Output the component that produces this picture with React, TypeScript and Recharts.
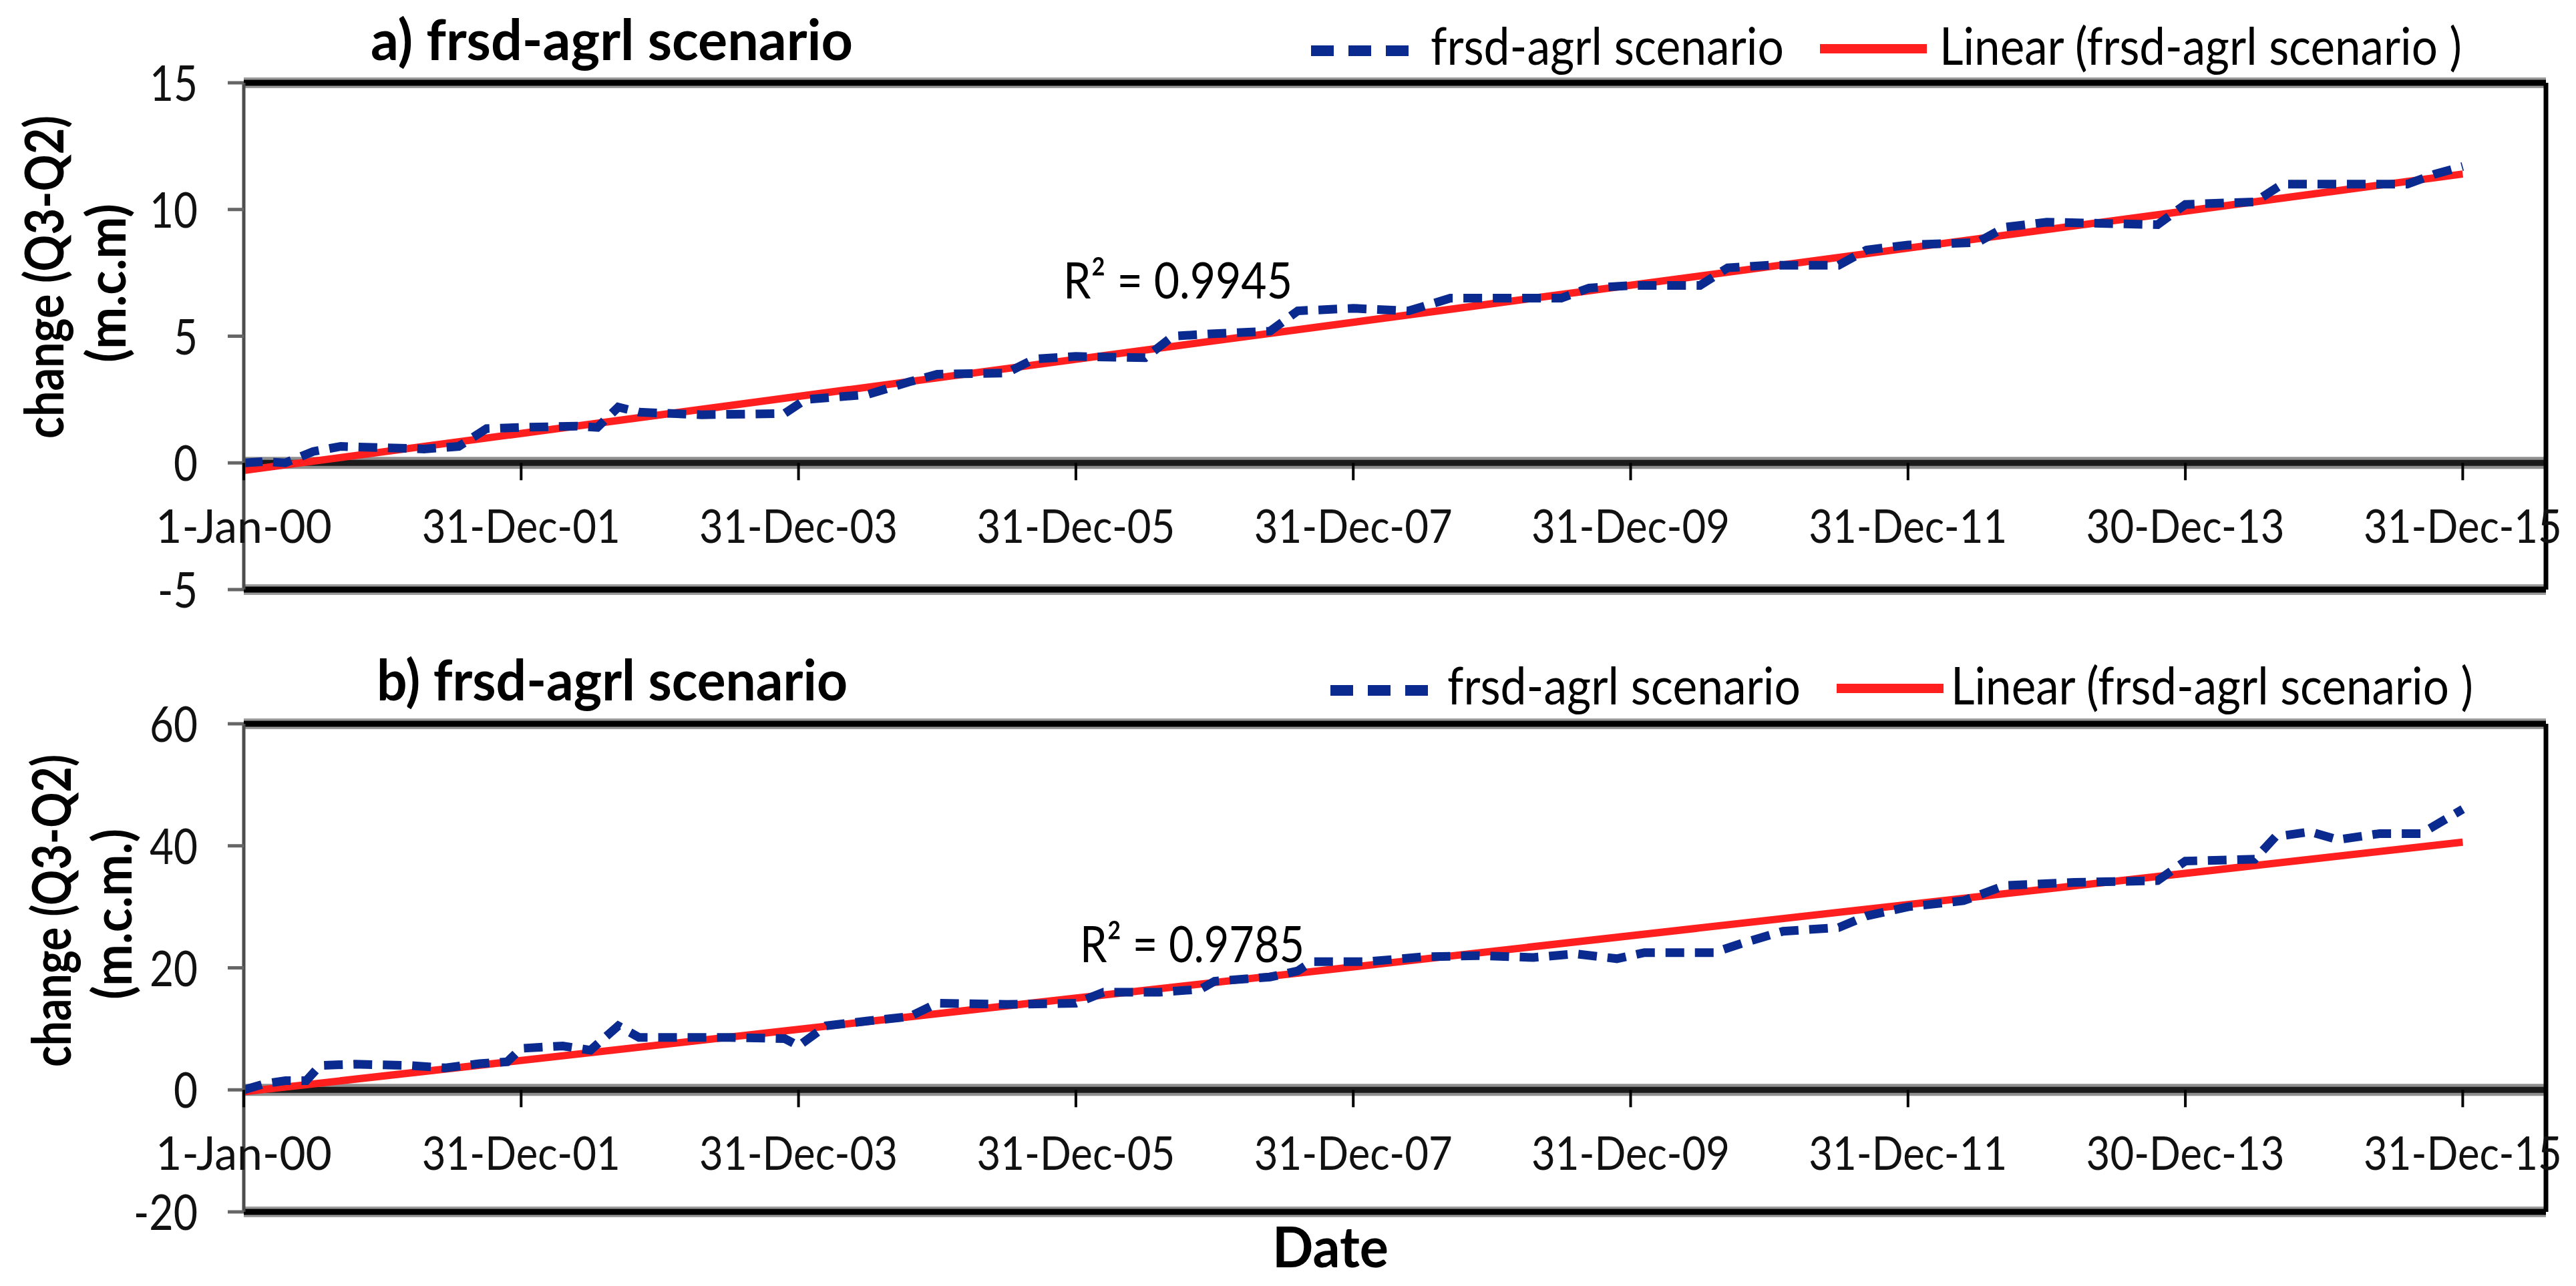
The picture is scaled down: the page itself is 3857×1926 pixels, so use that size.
import React from 'react';
import { LineChart, Line, XAxis, YAxis, ReferenceLine } from 'recharts';

const FONT = 'Lato, "Open Sans", "DejaVu Sans", sans-serif';

// x values are years counted from 1-Jan-2000
const xTicks = [0, 2, 4, 6, 8, 10, 12, 14, 16];
const xTickLabels = ['1-Jan-00', '31-Dec-01', '31-Dec-03', '31-Dec-05', '31-Dec-07', '31-Dec-09', '31-Dec-11', '30-Dec-13', '31-Dec-15'];

// a) change (Q3-Q2), m.c.m
const aYears = [0, 0.15, 0.3, 0.5, 0.7, 1.0, 1.3, 1.55, 1.75, 2.0, 2.4, 2.55, 2.7, 2.85, 3.3, 3.9, 4.05, 4.5, 4.8, 5.0, 5.5, 5.7, 6.0, 6.5, 6.7, 7.0, 7.4, 7.6, 8.0, 8.4, 8.7, 9.2, 9.5, 9.7, 10.0, 10.5, 10.7, 11.0, 11.5, 11.7, 12.0, 12.5, 12.7, 13.0, 13.8, 14.0, 14.5, 14.7, 15.0, 15.6, 15.8, 16.0];
const aChange = [0.0, 0.05, 0.0, 0.45, 0.65, 0.6, 0.55, 0.65, 1.35, 1.4, 1.45, 1.4, 2.2, 2.0, 1.9, 1.95, 2.5, 2.7, 3.2, 3.5, 3.55, 4.1, 4.2, 4.15, 5.0, 5.1, 5.2, 6.0, 6.1, 6.0, 6.5, 6.5, 6.5, 6.9, 7.0, 7.0, 7.7, 7.8, 7.8, 8.4, 8.6, 8.7, 9.3, 9.5, 9.4, 10.2, 10.3, 11.0, 11.0, 11.0, 11.4, 11.7];
const aTrendYears = [0, 16];
const aTrendValues = [-0.3, 11.4];
const aYTicks = [-5, 0, 5, 10, 15];

// b) change (Q3-Q2), m.c.m.
const bYears = [0, 0.15, 0.3, 0.45, 0.55, 0.8, 1.2, 1.45, 1.7, 1.9, 2.0, 2.3, 2.5, 2.7, 2.85, 3.5, 3.9, 4.0, 4.2, 4.5, 4.8, 5.0, 5.5, 6.0, 6.2, 6.6, 6.9, 7.0, 7.4, 7.6, 7.7, 8.1, 8.5, 8.9, 9.3, 9.6, 9.9, 10.1, 10.6, 10.8, 11.1, 11.5, 11.7, 12.0, 12.4, 12.7, 13.2, 13.8, 14.0, 14.5, 14.65, 14.9, 15.1, 15.4, 15.7, 15.85, 16.0];
const bChange = [0.0, 1.0, 1.5, 1.5, 4.0, 4.2, 4.0, 3.6, 4.3, 4.6, 6.8, 7.2, 6.5, 10.5, 8.6, 8.6, 8.4, 7.2, 10.5, 11.3, 12.0, 14.2, 14.0, 14.2, 16.0, 16.0, 16.5, 17.8, 18.5, 19.5, 21.0, 21.0, 21.8, 22.0, 21.7, 22.3, 21.5, 22.5, 22.5, 24.0, 26.0, 26.6, 28.5, 30.0, 31.0, 33.5, 34.0, 34.3, 37.5, 37.8, 41.5, 42.3, 41.0, 42.0, 42.0, 44.0, 46.0];
const bTrendYears = [0, 16];
const bTrendValues = [-0.3, 40.6];
const bYTicks = [-20, 0, 20, 40, 60];

const toRows = (xs: number[], ys: number[]) => xs.map((t, i) => ({ t, v: ys[i] }));

const BLUE = '#0b2a8f';
const RED = '#ff1f1f';
const W = 3857;
const XAXIS_H = 30;

type PanelProps = {
  top: number;
  height: number;
  margin: { top: number; right: number; bottom: number; left: number };
  yDomain: [number, number];
  yTicks: number[];
  series: { t: number; v: number }[];
  trend: { t: number; v: number }[];
};

function Panel({ top, height, margin, yDomain, yTicks, series, trend }: PanelProps) {
  const plotH = height - margin.top - margin.bottom - XAXIS_H;
  const [yMin, yMax] = yDomain;

  const XTick = (props: any) => {
    const { x, y, payload } = props;
    const zeroY = y - (plotH * (0 - yMin)) / (yMax - yMin);
    const label = xTickLabels[xTicks.indexOf(payload.value)] || '';
    return (
      <g>
        <line x1={x} x2={x} y1={zeroY} y2={zeroY + 26} stroke="#000" strokeWidth={4} />
        <text x={x} y={zeroY + 120} textAnchor="middle" fontFamily={FONT} fontSize={70} fill="#111"
          textLength={label.length * 33} lengthAdjust="spacingAndGlyphs">{label}</text>
      </g>
    );
  };

  const YTick = (props: any) => {
    const { x, y, payload } = props;
    const s = String(payload.value);
    const len = s.split('').reduce((acc, c) => acc + (c === '-' ? 24 : 36), 0);
    return (
      <text x={x} y={y + 27} textAnchor="end" fontFamily={FONT} fontSize={74} fill="#111"
        textLength={len} lengthAdjust="spacingAndGlyphs">{s}</text>
    );
  };

  return (
    <div style={{ position: 'absolute', left: 0, top }}>
      <LineChart width={W} height={height} margin={margin}>
        <XAxis type="number" dataKey="t" domain={[0, 16.6]} ticks={xTicks} interval={0}
          allowDataOverflow height={XAXIS_H} axisLine={false} tickLine={false}
          tickSize={0} tickMargin={0} tick={<XTick />} />
        <YAxis type="number" domain={yDomain} ticks={yTicks} interval={0} allowDataOverflow
          width={365} axisLine={{ stroke: '#4d4d4d', strokeWidth: 5 }}
          tickLine={{ stroke: '#666', strokeWidth: 5 }} tickSize={24} tickMargin={45} tick={<YTick />} />
        <ReferenceLine y={yMax} stroke="#9a9a9a" strokeWidth={16} />
        <ReferenceLine y={yMax} stroke="#000" strokeWidth={9} />
        <ReferenceLine y={yMin} stroke="#9a9a9a" strokeWidth={16} />
        <ReferenceLine y={yMin} stroke="#000" strokeWidth={9} />
        <ReferenceLine y={0} stroke="#8f8f8f" strokeWidth={18} />
        <ReferenceLine y={0} stroke="#1a1a1a" strokeWidth={9} />
        <ReferenceLine x={16.6} stroke="#000" strokeWidth={7} />
        <Line data={trend} dataKey="v" type="linear" stroke={RED} strokeWidth={11}
          dot={false} isAnimationActive={false} />
        <Line data={series} dataKey="v" type="linear" stroke={BLUE} strokeWidth={13}
          strokeDasharray="28 16" dot={false} isAnimationActive={false} />
      </LineChart>
    </div>
  );
}

const txt = { fontFamily: FONT, fill: '#000' };

function Legend({ y, dashX, textX, redX, linX }: { y: number; dashX: number; textX: number; redX: number; linX: number }) {
  return (
    <g>
      <line x1={dashX} x2={dashX + 146} y1={y} y2={y} stroke={BLUE} strokeWidth={16} strokeDasharray="34 22" />
      <text x={textX} y={y + 21} fontSize={77} textLength={529} lengthAdjust="spacingAndGlyphs" {...txt}>frsd-agrl scenario</text>
      <line x1={redX} x2={redX + 160} y1={y - 3} y2={y - 3} stroke={RED} strokeWidth={14} />
      <text x={linX} y={y + 21} fontSize={77} textLength={782} lengthAdjust="spacingAndGlyphs" {...txt}>Linear (frsd-agrl scenario )</text>
    </g>
  );
}

function YLabel({ cx, cy, len, children }: { cx: number; cy: number; len: number; children: string }) {
  return (
    <text transform={`translate(${cx},${cy}) rotate(-90)`} textAnchor="middle" dominantBaseline="central"
      fontSize={80} fontWeight={700} textLength={len} lengthAdjust="spacingAndGlyphs" {...txt}>
      {children}
    </text>
  );
}

export default function App() {
  const aSeries = toRows(aYears, aChange);
  const aTrend = toRows(aTrendYears, aTrendValues);
  const bSeries = toRows(bYears, bChange);
  const bTrend = toRows(bTrendYears, bTrendValues);

  return (
    <div style={{ position: 'absolute', left: 0, top: 0, width: W, height: 1926, background: '#fff', overflow: 'hidden' }}>
      <Panel top={0} height={963} margin={{ top: 124, right: 45, bottom: 50, left: 0 }}
        yDomain={[-5, 15]} yTicks={aYTicks} series={aSeries} trend={aTrend} />
      <Panel top={963} height={963} margin={{ top: 121, right: 45, bottom: 81, left: 0 }}
        yDomain={[-20, 60]} yTicks={bYTicks} series={bSeries} trend={bTrend} />
      <svg width={W} height={1926} style={{ position: 'absolute', left: 0, top: 0, pointerEvents: 'none' }}>
        <text x={555} y={90} fontSize={85} fontWeight={700} textLength={722} lengthAdjust="spacingAndGlyphs" {...txt}>a) frsd-agrl scenario</text>
        <text x={564} y={1049} fontSize={85} fontWeight={700} textLength={705} lengthAdjust="spacingAndGlyphs" {...txt}>b) frsd-agrl scenario</text>
        <Legend y={76} dashX={1963} textX={2142} redX={2725} linX={2904} />
        <Legend y={1034} dashX={1992} textX={2167} redX={2750} linX={2921} />
        <text x={1592} y={447} fontSize={75} textLength={343} lengthAdjust="spacingAndGlyphs" {...txt}>R² = 0.9945</text>
        <text x={1617} y={1441} fontSize={75} textLength={336} lengthAdjust="spacingAndGlyphs" {...txt}>R² = 0.9785</text>
        <YLabel cx={64} cy={415} len={484}>change (Q3-Q2)</YLabel>
        <YLabel cx={157} cy={424} len={238}>(m.c.m)</YLabel>
        <YLabel cx={75} cy={1364} len={468}>change (Q3-Q2)</YLabel>
        <YLabel cx={166} cy={1369} len={256}>(m.c.m.)</YLabel>
        <text x={1992} y={1898} textAnchor="middle" fontSize={84} fontWeight={700} textLength={174} lengthAdjust="spacingAndGlyphs" {...txt}>Date</text>
      </svg>
    </div>
  );
}
